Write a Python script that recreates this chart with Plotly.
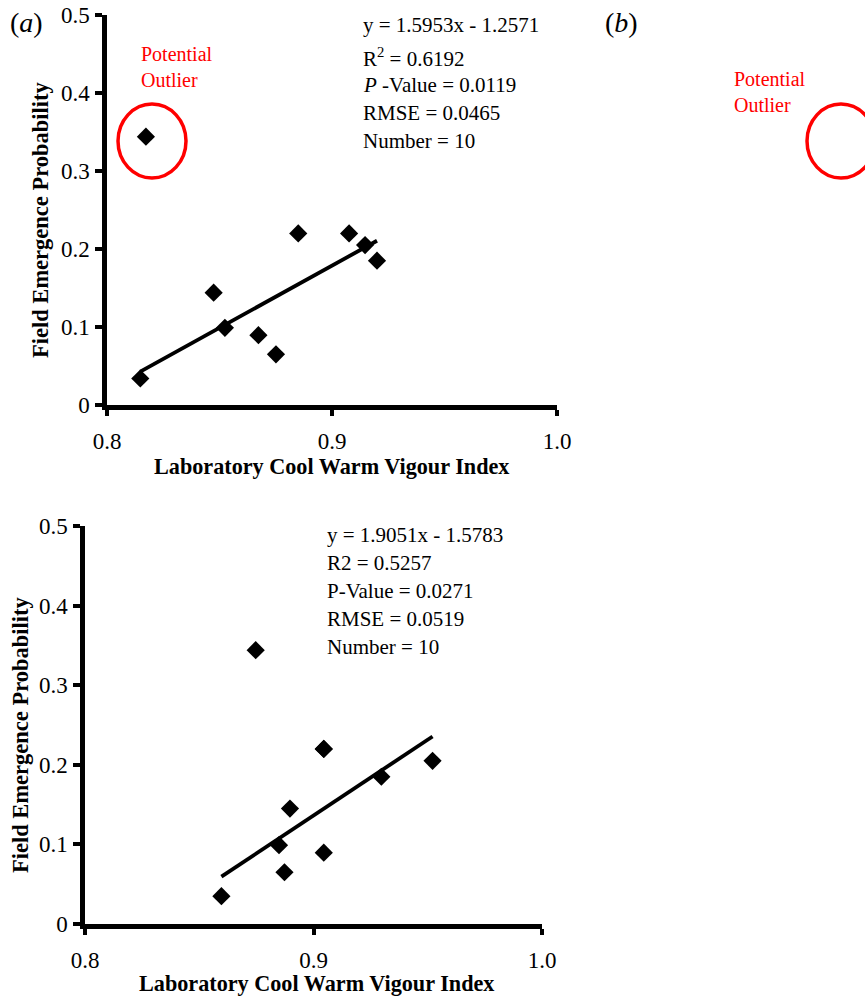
import plotly.graph_objects as go

# ---------------- data ----------------
# Panel (a)
lab_index_a = [0.8148, 0.8173, 0.8474, 0.8524, 0.8673, 0.8751, 0.8850, 0.9076, 0.9147, 0.9200]
field_prob_a = [0.034, 0.344, 0.144, 0.099, 0.0895, 0.065, 0.220, 0.220, 0.205, 0.185]
slope_a, intercept_a = 1.5953, -1.2571
stats_a = ["y = 1.5953x - 1.2571", "R<sup>2</sup> = 0.6192", "<i>P</i> -Value = 0.0119",
           "RMSE = 0.0465", "Number = 10"]

# Lower panel
lab_index_c = [0.8597, 0.8747, 0.8849, 0.8873, 0.8897, 0.9045, 0.9045, 0.9045, 0.9297, 0.9521]
field_prob_c = [0.035, 0.344, 0.099, 0.065, 0.145, 0.220, 0.220, 0.0896, 0.185, 0.205]
slope_c, intercept_c = 1.9051, -1.5783
stats_c = ["y = 1.9051x - 1.5783", "R2 = 0.5257", "P-Value = 0.0271",
           "RMSE = 0.0519", "Number = 10"]

x_ticks = [0.8, 0.9, 1.0]
x_ticktext = ["0.8", "0.9", "1.0"]
y_ticks = [0, 0.1, 0.2, 0.3, 0.4, 0.5]
y_ticktext = ["0", "0.1", "0.2", "0.3", "0.4", "0.5"]

x_title = "Laboratory Cool Warm Vigour Index"
y_title = "Field Emergence Probability"

# ---------------- layout helpers ----------------
W, H = 865, 998
FONT = "Liberation Serif, Times New Roman, serif"


def px(x):
    return x / W


def py(y):
    return 1 - y / H


fig = go.Figure()

# scatter + trend lines
for xs, ys, m, b, xa, ya in [
    (lab_index_a, field_prob_a, slope_a, intercept_a, "x", "y"),
    (lab_index_c, field_prob_c, slope_c, intercept_c, "x2", "y2"),
]:
    xl = [min(xs), max(xs)]
    yl = [m * v + b for v in xl]
    fig.add_trace(go.Scatter(x=xl, y=yl, mode="lines", xaxis=xa, yaxis=ya,
                             line=dict(color="black", width=3.8), showlegend=False,
                             hoverinfo="skip"))
    fig.add_trace(go.Scatter(x=xs, y=ys, mode="markers", xaxis=xa, yaxis=ya,
                             marker=dict(symbol="diamond", size=14, color="black"),
                             showlegend=False))

axis_common = dict(showgrid=False, zeroline=False, showline=True, linecolor="black",
                   linewidth=4.5, ticks="outside", tickcolor="black", tickwidth=3.5,
                   automargin=False,
                   tickfont=dict(family=FONT, size=23, color="black"))

fig.update_layout(
    width=W, height=H, margin=dict(l=0, r=0, t=0, b=0, autoexpand=False),
    paper_bgcolor="white", plot_bgcolor="white",
    font=dict(family=FONT, color="black"),
    xaxis=dict(domain=[px(107), px(557)], range=[0.8, 1.0], anchor="y",
               tickvals=x_ticks, ticktext=x_ticktext, ticklen=6, ticklabelstandoff=6,
               **axis_common),
    yaxis=dict(domain=[py(405), py(15)], range=[0, 0.5], anchor="x",
               tickvals=y_ticks, ticktext=y_ticktext, ticklen=7, ticklabelstandoff=1,
               **axis_common),
    xaxis2=dict(domain=[px(85), px(542)], range=[0.8, 1.0], anchor="y2",
                tickvals=x_ticks, ticktext=x_ticktext, ticklen=6, ticklabelstandoff=6,
                **axis_common),
    yaxis2=dict(domain=[py(924), py(526)], range=[0, 0.5], anchor="x2",
                tickvals=y_ticks, ticktext=y_ticktext, ticklen=7, ticklabelstandoff=1,
                **axis_common),
)

annotations = []


def ann(text, x, y, size=21, xanchor="left", yanchor="middle", color="black", angle=0,
        bold=False, align="left"):
    if bold:
        text = "<b>" + text + "</b>"
    annotations.append(dict(text=text, x=px(x), y=py(y), xref="paper", yref="paper",
                            xanchor=xanchor, yanchor=yanchor, showarrow=False,
                            textangle=angle, align=align,
                            font=dict(family=FONT, size=size, color=color)))


# axis titles
ann(x_title, 331, 466, size=22.2, xanchor="center", bold=True)
ann(y_title, 40, 220, size=22.5, xanchor="center", angle=-90, bold=True)
ann(x_title, 316, 983, size=22.2, xanchor="center", bold=True)
ann(y_title, 20, 735, size=22.5, xanchor="center", angle=-90, bold=True)

# panel labels
ann("(<i>a</i>)", 26, 22, size=28, xanchor="center")
ann("(<i>b</i>)", 621, 22, size=28, xanchor="center")

# outlier notes
ann("Potential<br>Outlier", 139, 67, size=20, color="red")
ann("Potential<br>Outlier", 732, 92, size=20, color="red")

# stats
ys_a = [25, 57, 85, 113, 141]
for t, yv in zip(stats_a, ys_a):
    ann(t, 361, yv)
ys_c = [535, 563, 591, 619, 647]
for t, yv in zip(stats_c, ys_c):
    ann(t, 325, yv)

fig.update_layout(annotations=annotations)

# outlier ellipses
for x0, x1 in [(118, 186), (807, 875)]:
    fig.add_shape(type="circle", xref="paper", yref="paper",
                  x0=px(x0), x1=px(x1), y0=py(178), y1=py(104),
                  line=dict(color="red", width=3.5))

fig.write_html("out.html")
